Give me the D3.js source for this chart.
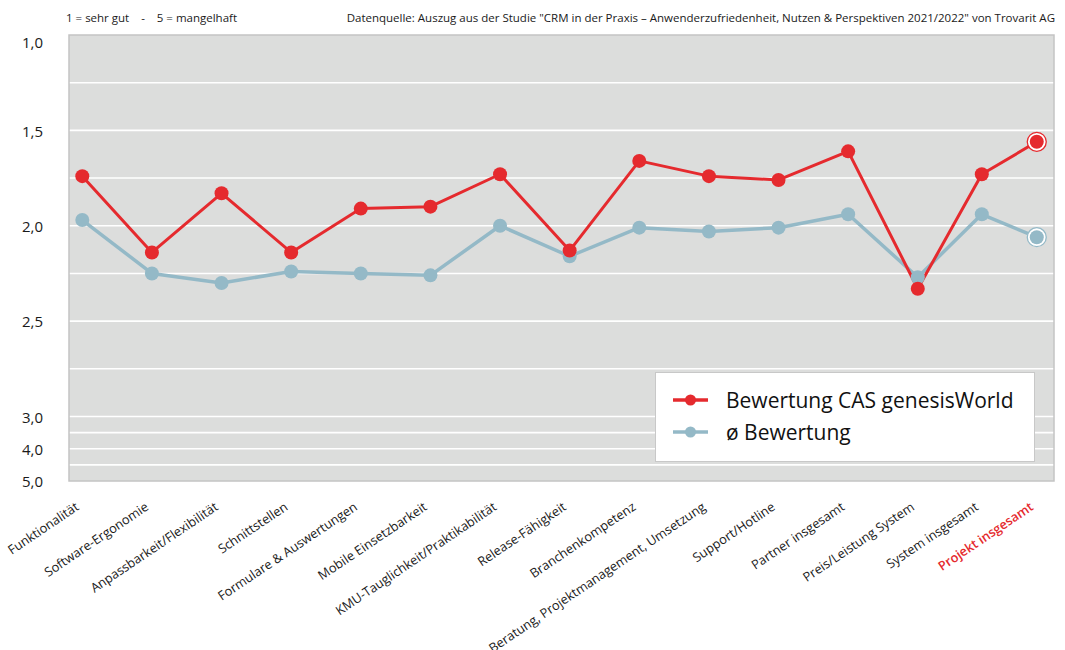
<!DOCTYPE html>
<html>
<head>
<meta charset="utf-8">
<script src="https://cdn.jsdelivr.net/npm/d3@7"></script>
<style>
  html, body { margin: 0; padding: 0; background: #ffffff; }
  svg { display: block; font-family: "Open Sans", "Noto Sans", sans-serif; }
</style>
</head>
<body>
<svg id="chart" width="1065" height="650"></svg>
<script>
// ---- Data ----
const categories = [
  "Funktionalität", "Software-Ergonomie", "Anpassbarkeit/Flexibilität", "Schnittstellen",
  "Formulare & Auswertungen", "Mobile Einsetzbarkeit", "KMU-Tauglichkeit/Praktikabilität",
  "Release-Fähigkeit", "Branchenkompetenz", "Beratung, Projektmanagement, Umsetzung",
  "Support/Hotline", "Partner insgesamt", "Preis/Leistung System", "System insgesamt",
  "Projekt insgesamt"
];
const casValues = [1.74, 2.14, 1.83, 2.14, 1.91, 1.90, 1.73, 2.13, 1.66, 1.74, 1.76, 1.61, 2.33, 1.73, 1.56];
const avgValues = [1.97, 2.25, 2.30, 2.24, 2.25, 2.26, 2.00, 2.16, 2.01, 2.03, 2.01, 1.94, 2.27, 1.94, 2.06];
const seriesNames = ["Bewertung CAS genesisWorld", "ø Bewertung"];
const yTickValues = [1, 1.5, 2, 2.5, 3, 4, 5];
const yGridValues = [1.25, 1.5, 1.75, 2, 2.25, 2.5, 2.75, 3, 3.5, 4, 4.5];
const noteText = "1 = sehr gut    -    5 = mangelhaft";
const sourceText = "Datenquelle: Auszug aus der Studie \"CRM in der Praxis – Anwenderzufriedenheit, Nutzen & Perspektiven 2021/2022\" von Trovarit AG";

// ---- Layout ----
const plot = { left: 69, top: 35, right: 1054, bottom: 481 };
const pw = plot.right - plot.left;
const colRed = "#e52a2e";
const colBlue = "#94b9c7";
const svg = d3.select("#chart");

// piecewise category scale (last categories are set closer together in the original)
const x = d3.scaleLinear()
  .domain([0, 12, 13, 14])
  .range([plot.left + pw * 0.0135, plot.left + pw * 0.8617, plot.left + pw * 0.9267, plot.left + pw * 0.9825]);

// piecewise value scale: 1–3 linear, 3–5 compressed
const y = d3.scaleLinear().domain([1, 3, 5]).range([plot.top, 416.5, plot.bottom]);

// Background
svg.append("rect")
  .attr("x", plot.left).attr("y", plot.top)
  .attr("width", pw).attr("height", plot.bottom - plot.top)
  .attr("fill", "#dcdddc");

// Gridlines
svg.append("g").selectAll("line").data(yGridValues).join("line")
  .attr("x1", plot.left).attr("x2", plot.right)
  .attr("y1", d => y(d)).attr("y2", d => y(d))
  .attr("stroke", "#ffffff").attr("stroke-width", 1.6);

// Border
svg.append("rect")
  .attr("x", plot.left).attr("y", plot.top)
  .attr("width", pw).attr("height", plot.bottom - plot.top)
  .attr("fill", "none").attr("stroke", "#c4c4c4").attr("stroke-width", 1.5);

// Y axis labels
const yAxis = d3.axisLeft(y).tickValues(yTickValues).tickSize(0)
  .tickFormat(d => d3.format(".1f")(d).replace(".", ","));
const gy = svg.append("g").attr("transform", `translate(${plot.left - 26},0)`).call(yAxis);
gy.select(".domain").remove();
gy.selectAll("text")
  .attr("font-size", 15).attr("fill", "#1a1a1a")
  .attr("font-family", "'Open Sans', 'Noto Sans', sans-serif")
  .attr("x", 0)
  .attr("y", d => (d === 1 ? 8 : 1));

// X axis labels
const gx = svg.append("g");
gx.selectAll("text").data(categories).join("text")
  .attr("transform", (d, i) => `translate(${x(i) - 2.5},${plot.bottom + 28}) rotate(-34)`)
  .attr("text-anchor", "end")
  .attr("font-size", 12.8)
  .attr("fill", (d, i) => i === categories.length - 1 ? colRed : "#1a1a1a")
  .attr("font-weight", (d, i) => i === categories.length - 1 ? 600 : 400)
  .text(d => d);

// Lines
const line = d3.line().x((d, i) => x(i)).y(d => y(d));
svg.append("path").datum(avgValues)
  .attr("d", line).attr("fill", "none")
  .attr("stroke", colBlue).attr("stroke-width", 3.5).attr("stroke-linejoin", "round");
svg.append("path").datum(casValues)
  .attr("d", line).attr("fill", "none")
  .attr("stroke", colRed).attr("stroke-width", 3).attr("stroke-linejoin", "round");

function drawMarkers(values, color) {
  const g = svg.append("g");
  const last = values.length - 1;
  g.selectAll("circle.ring").data(values.filter((d, i) => i === last)).join("circle")
    .attr("class", "ring")
    .attr("cx", x(last)).attr("cy", d => y(d)).attr("r", 9.5)
    .attr("fill", "#ffffff").attr("stroke", color).attr("stroke-width", 1.3);
  g.selectAll("circle.dot").data(values).join("circle")
    .attr("class", "dot")
    .attr("cx", (d, i) => x(i)).attr("cy", d => y(d)).attr("r", 7)
    .attr("fill", color);
}
drawMarkers(avgValues, colBlue);
drawMarkers(casValues, colRed);

// Legend
const lg = svg.append("g");
lg.append("rect")
  .attr("x", 655.5).attr("y", 372.5).attr("width", 379).attr("height", 89)
  .attr("fill", "#ffffff").attr("stroke", "#c8c8c8").attr("stroke-width", 1);
const legendItems = [
  { name: seriesNames[0], color: colRed, yy: 400 },
  { name: seriesNames[1], color: colBlue, yy: 432 }
];
legendItems.forEach(it => {
  lg.append("line").attr("x1", 673).attr("x2", 708).attr("y1", it.yy).attr("y2", it.yy)
    .attr("stroke", it.color).attr("stroke-width", 3.5);
  lg.append("circle").attr("cx", 690.5).attr("cy", it.yy).attr("r", 5.5).attr("fill", it.color);
  lg.append("text").attr("x", 726).attr("y", it.yy + 7.5)
    .attr("font-size", 21).attr("fill", "#111").text(it.name);
});

// Header notes
svg.append("text").attr("x", 66).attr("y", 22)
  .attr("font-size", 11.5).attr("fill", "#1a1a1a")
  .style("white-space", "pre").text(noteText);
svg.append("text").attr("x", 1055).attr("y", 22).attr("text-anchor", "end")
  .attr("font-size", 11.5).attr("fill", "#1a1a1a").text(sourceText);
</script>
</body>
</html>
